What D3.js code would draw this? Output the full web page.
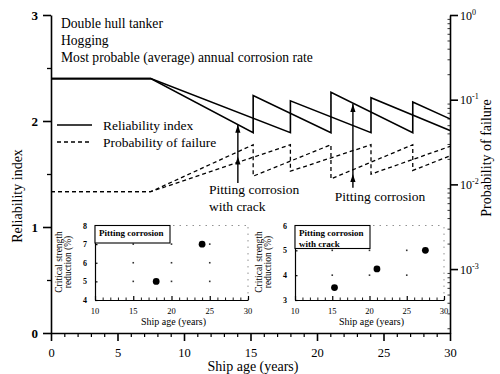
<!DOCTYPE html>
<html><head><meta charset="utf-8">
<script src="https://cdn.jsdelivr.net/npm/d3@7"></script>
<style>
body{margin:0;background:#fff}
svg{display:block}
text{font-family:"Liberation Serif","Times New Roman",serif;fill:#000}
</style>
</head><body>
<svg id="c" width="500" height="374"></svg>
<script>
// ---------- data ----------
const xTicks = [0, 5, 10, 15, 20, 25, 30];
const yLeftTicks = [0, 1, 2, 3];
const yRightTicks = [1, 0.1, 0.01, 0.001];
const yRightExp = ["0", "-1", "-2", "-3"];
// reliability index, pitting corrosion with crack (years, beta)
const relCrack = [[0,2.40],[7.5,2.40],[15.2,1.89],[15.2,2.24],[21.05,1.89],[21.05,2.27],[27.2,1.89],[27.2,2.18],[30,2.02]];
// reliability index, pitting corrosion
const relPit = [[0,2.40],[7.5,2.40],[18,1.89],[18,2.19],[24.06,1.89],[24.06,2.22],[30,1.91]];
// probability of failure (years, Pf)
const pfCrack = [[0,0.0082],[7.5,0.0082],[15.2,0.0294],[15.2,0.0125],[21.05,0.0294],[21.05,0.0116],[27.2,0.0294],[27.2,0.0146],[30,0.0217]];
const pfPit = [[0,0.0082],[7.5,0.0082],[18,0.0294],[18,0.0143],[24.06,0.0294],[24.06,0.0132],[30,0.0281]];
// annotation arrows: year, beta at tip, Pf at second head, Pf at tail
const arrowYears = [14.05, 22.7];
const arrowTipBeta = [1.965, 2.16];
const arrowMidPf = [0.0214, 0.0133];
const arrowTailPf = [0.0104, 0.0091];
const titleLines = ["Double hull tanker", "Hogging", "Most probable (average) annual corrosion rate"];
const legendLabels = ["Reliability index", "Probability of failure"];
// insets: critical strength reduction (%) vs ship age
const inset1Dots = [[18,5],[24,7]];
const inset2Dots = [[15.3,3.5],[21,4.25],[27.5,5.0]];
const inset1YTicks = [4,5,6,7,8];
const inset2YTicks = [3,4,5,6];
const insetXTicks = [10,15,20,25,30];

// ---------- drawing ----------
const svg = d3.select("#c");
const x = d3.scaleLinear([0,30],[51,450]);
const yL = d3.scaleLinear([0,3],[333,15]);
const yR = d3.scaleLog([1.758e-4,1],[333,15]);

function styleAxis(g, w){
  g.select(".domain").attr("stroke","#000").attr("stroke-width",w);
  g.selectAll(".tick line").attr("stroke","#000").attr("stroke-width",w);
  g.selectAll("text").attr("font-family","Liberation Serif, serif").attr("fill","#000");
}

// left axis
const gL = svg.append("g").attr("transform","translate(51,0)")
  .call(d3.axisLeft(yL).tickValues(yLeftTicks).tickSize(8).tickSizeOuter(0).tickPadding(5).tickFormat(d3.format("d")));
styleAxis(gL,1.6); gL.selectAll("text").attr("font-size",13).attr("font-weight","bold");
const gLm = svg.append("g").attr("transform","translate(51,0)")
  .call(d3.axisLeft(yL).tickValues([0.5,1.5,2.5]).tickSize(4).tickSizeOuter(0).tickFormat(""));
styleAxis(gLm,1.3); gLm.select(".domain").remove();

// bottom axis
const gB = svg.append("g").attr("transform","translate(0,333)")
  .call(d3.axisBottom(x).tickValues(xTicks).tickSize(8).tickSizeOuter(0).tickPadding(7).tickFormat(d3.format("d")));
styleAxis(gB,1.6); gB.selectAll("text").attr("font-size",12.5);
const gBm = svg.append("g").attr("transform","translate(0,333)")
  .call(d3.axisBottom(x).tickValues(d3.range(1,30).filter(v=>v%5)).tickSize(4).tickSizeOuter(0).tickFormat(""));
styleAxis(gBm,1.2); gBm.select(".domain").remove();

// right axis
const gR = svg.append("g").attr("transform","translate(450,0)")
  .call(d3.axisRight(yR).tickValues(yRightTicks).tickSize(8).tickSizeOuter(0).tickPadding(2).tickFormat(""));
styleAxis(gR,1.6);
gR.selectAll(".tick").each(function(d,i){
  const t = d3.select(this).append("text").attr("x",10).attr("dy","0.35em").attr("font-size",12).attr("fill","#000");
  t.append("tspan").text("10");
  t.append("tspan").attr("dy",-5).attr("font-size",8).text(yRightExp[i]);
});
const minorR = [];
for(let e=-4;e<0;e++) for(let m=2;m<10;m++){ const v=m*Math.pow(10,e); if(v>=yR.domain()[0]) minorR.push(v); }
const gRm = svg.append("g").attr("transform","translate(450,0)")
  .call(d3.axisLeft(yR).tickValues(minorR).tickSize(2.5).tickSizeOuter(0).tickFormat(""));
styleAxis(gRm,0.8); gRm.select(".domain").remove();

// axis titles
svg.append("text").attr("transform","translate(22,196) rotate(-90)").attr("text-anchor","middle").attr("font-size",14).text("Reliability index");
svg.append("text").attr("transform","translate(491,158) rotate(-90)").attr("text-anchor","middle").attr("font-size",14).text("Probability of failure");
svg.append("text").attr("x",253).attr("y",371).attr("text-anchor","middle").attr("font-size",14).text("Ship age (years)");

// title block
svg.selectAll(".ttl").data(titleLines).join("text").attr("class","ttl")
  .attr("x",61).attr("y",(d,i)=>28+i*17).attr("font-size",13.6).text(d=>d);

// lines
const lineL = d3.line().x(d=>x(d[0])).y(d=>yL(d[1]));
const lineR = d3.line().x(d=>x(d[0])).y(d=>yR(d[1]));
[relCrack, relPit].forEach(s=>svg.append("path").attr("d",lineL(s)).attr("fill","none").attr("stroke","#000").attr("stroke-width",1.6));
[pfCrack, pfPit].forEach(s=>svg.append("path").attr("d",lineR(s)).attr("fill","none").attr("stroke","#000").attr("stroke-width",1.3).attr("stroke-dasharray","4,3"));

// legend
const legY = [125, 142];
legendLabels.forEach((lab,i)=>{
  svg.append("line").attr("x1",57).attr("x2",92).attr("y1",legY[i]).attr("y2",legY[i])
    .attr("stroke","#000").attr("stroke-width",1.3).attr("stroke-dasharray", i ? "4,3" : null);
  svg.append("text").attr("x",103).attr("y",legY[i]+5).attr("font-size",13.5).text(lab);
});

// arrows
function head(xp, yp){
  svg.append("path").attr("d",`M${xp},${yp} L${xp-2.6},${yp+8} L${xp+2.6},${yp+8} Z`).attr("fill","#000");
}
arrowYears.forEach((yr,i)=>{
  const xp = x(yr);
  svg.append("line").attr("x1",xp).attr("x2",xp).attr("y1",yL(arrowTipBeta[i])).attr("y2",yR(arrowTailPf[i])).attr("stroke","#000").attr("stroke-width",1.4);
  head(xp, yL(arrowTipBeta[i]));
  head(xp, yR(arrowMidPf[i]));
});
svg.append("text").attr("x",209).attr("y",194).attr("font-size",13.5).text("Pitting corrosion");
svg.append("text").attr("x",209).attr("y",211).attr("font-size",13.5).text("with crack");
svg.append("text").attr("x",380).attr("y",201).attr("text-anchor","middle").attr("font-size",13.5).text("Pitting corrosion");

// insets
function inset(cfg){
  const ix = d3.scaleLinear([10,30],cfg.xr);
  const iy = d3.scaleLinear(cfg.yd,[300,225.5]);
  const g = svg.append("g");
  g.append("line").attr("x1",cfg.xr[0]).attr("x2",cfg.xr[1]).attr("y1",iy(cfg.yd[1])).attr("y2",iy(cfg.yd[1])).attr("stroke","#777").attr("stroke-width",0.8).attr("stroke-dasharray","1.5,5");
  g.append("line").attr("x1",cfg.xr[1]).attr("x2",cfg.xr[1]).attr("y1",300).attr("y2",225.5).attr("stroke","#777").attr("stroke-width",0.8).attr("stroke-dasharray","1.5,5");
  const gx=[15,20,25], gy=cfg.gridY;
  gx.forEach(a=>gy.forEach(b=>g.append("rect").attr("x",ix(a)-0.8).attr("y",iy(b)-0.8).attr("width",1.6).attr("height",1.6).attr("fill","#333")));
  const ax = g.append("g").attr("transform","translate(0,300)")
    .call(d3.axisTop(ix).tickValues(insetXTicks).tickSize(4).tickSizeOuter(0).tickFormat(""));
  styleAxis(ax,1.2);
  const axm = g.append("g").attr("transform","translate(0,300)")
    .call(d3.axisTop(ix).tickValues(d3.range(11,30).filter(v=>v%5)).tickSize(2.5).tickSizeOuter(0).tickFormat(""));
  styleAxis(axm,0.9); axm.select(".domain").remove();
  g.selectAll(".ixl").data(insetXTicks).join("text").attr("x",d=>ix(d)).attr("y",314).attr("text-anchor","middle").attr("font-size",8.5).text(d=>d);
  const ay = g.append("g").attr("transform",`translate(${cfg.xr[0]},0)`)
    .call(d3.axisRight(iy).tickValues(cfg.yTicks).tickSize(2.5).tickSizeOuter(0).tickFormat(""));
  styleAxis(ay,1.2);
  g.selectAll(".iyl").data(cfg.yTicks).join("text").attr("x",cfg.xr[0]-8).attr("y",d=>iy(d)+3).attr("text-anchor","end").attr("font-size",8).attr("font-weight","bold").text(d=>d);
  g.append("text").attr("x",(cfg.xr[0]+cfg.xr[1])/2+2).attr("y",325).attr("text-anchor","middle").attr("font-size",10).text("Ship age (years)");
  g.append("text").attr("transform",`translate(${cfg.xr[0]-33},262) rotate(-90)`).attr("text-anchor","middle").attr("font-size",9.5).text("Critical strength");
  g.append("text").attr("transform",`translate(${cfg.xr[0]-24},262) rotate(-90)`).attr("text-anchor","middle").attr("font-size",9.5).text("reduction (%)");
  g.append("rect").attr("x",cfg.xr[0]).attr("y",225.5).attr("width",cfg.boxW).attr("height",cfg.boxH).attr("fill","#fff").attr("stroke","#000").attr("stroke-width",1.1);
  cfg.boxText.forEach((t,i)=>g.append("text").attr("x",cfg.xr[0]+4).attr("y",236+i*11).attr("font-size",9).attr("font-weight","bold").text(t));
  g.selectAll(".dot").data(cfg.dots).join("circle").attr("cx",d=>ix(d[0])).attr("cy",d=>iy(d[1])).attr("r",3.4).attr("fill","#000");
}
inset({xr:[95,248], yd:[4,8], yTicks:inset1YTicks, gridY:[5,6,7], dots:inset1Dots, boxW:75, boxH:17.5, boxText:["Pitting corrosion"]});
inset({xr:[295,444], yd:[3,6], yTicks:inset2YTicks, gridY:[4,5], dots:inset2Dots, boxW:75, boxH:23, boxText:["Pitting corrosion","with crack"]});
</script>
</body></html>
